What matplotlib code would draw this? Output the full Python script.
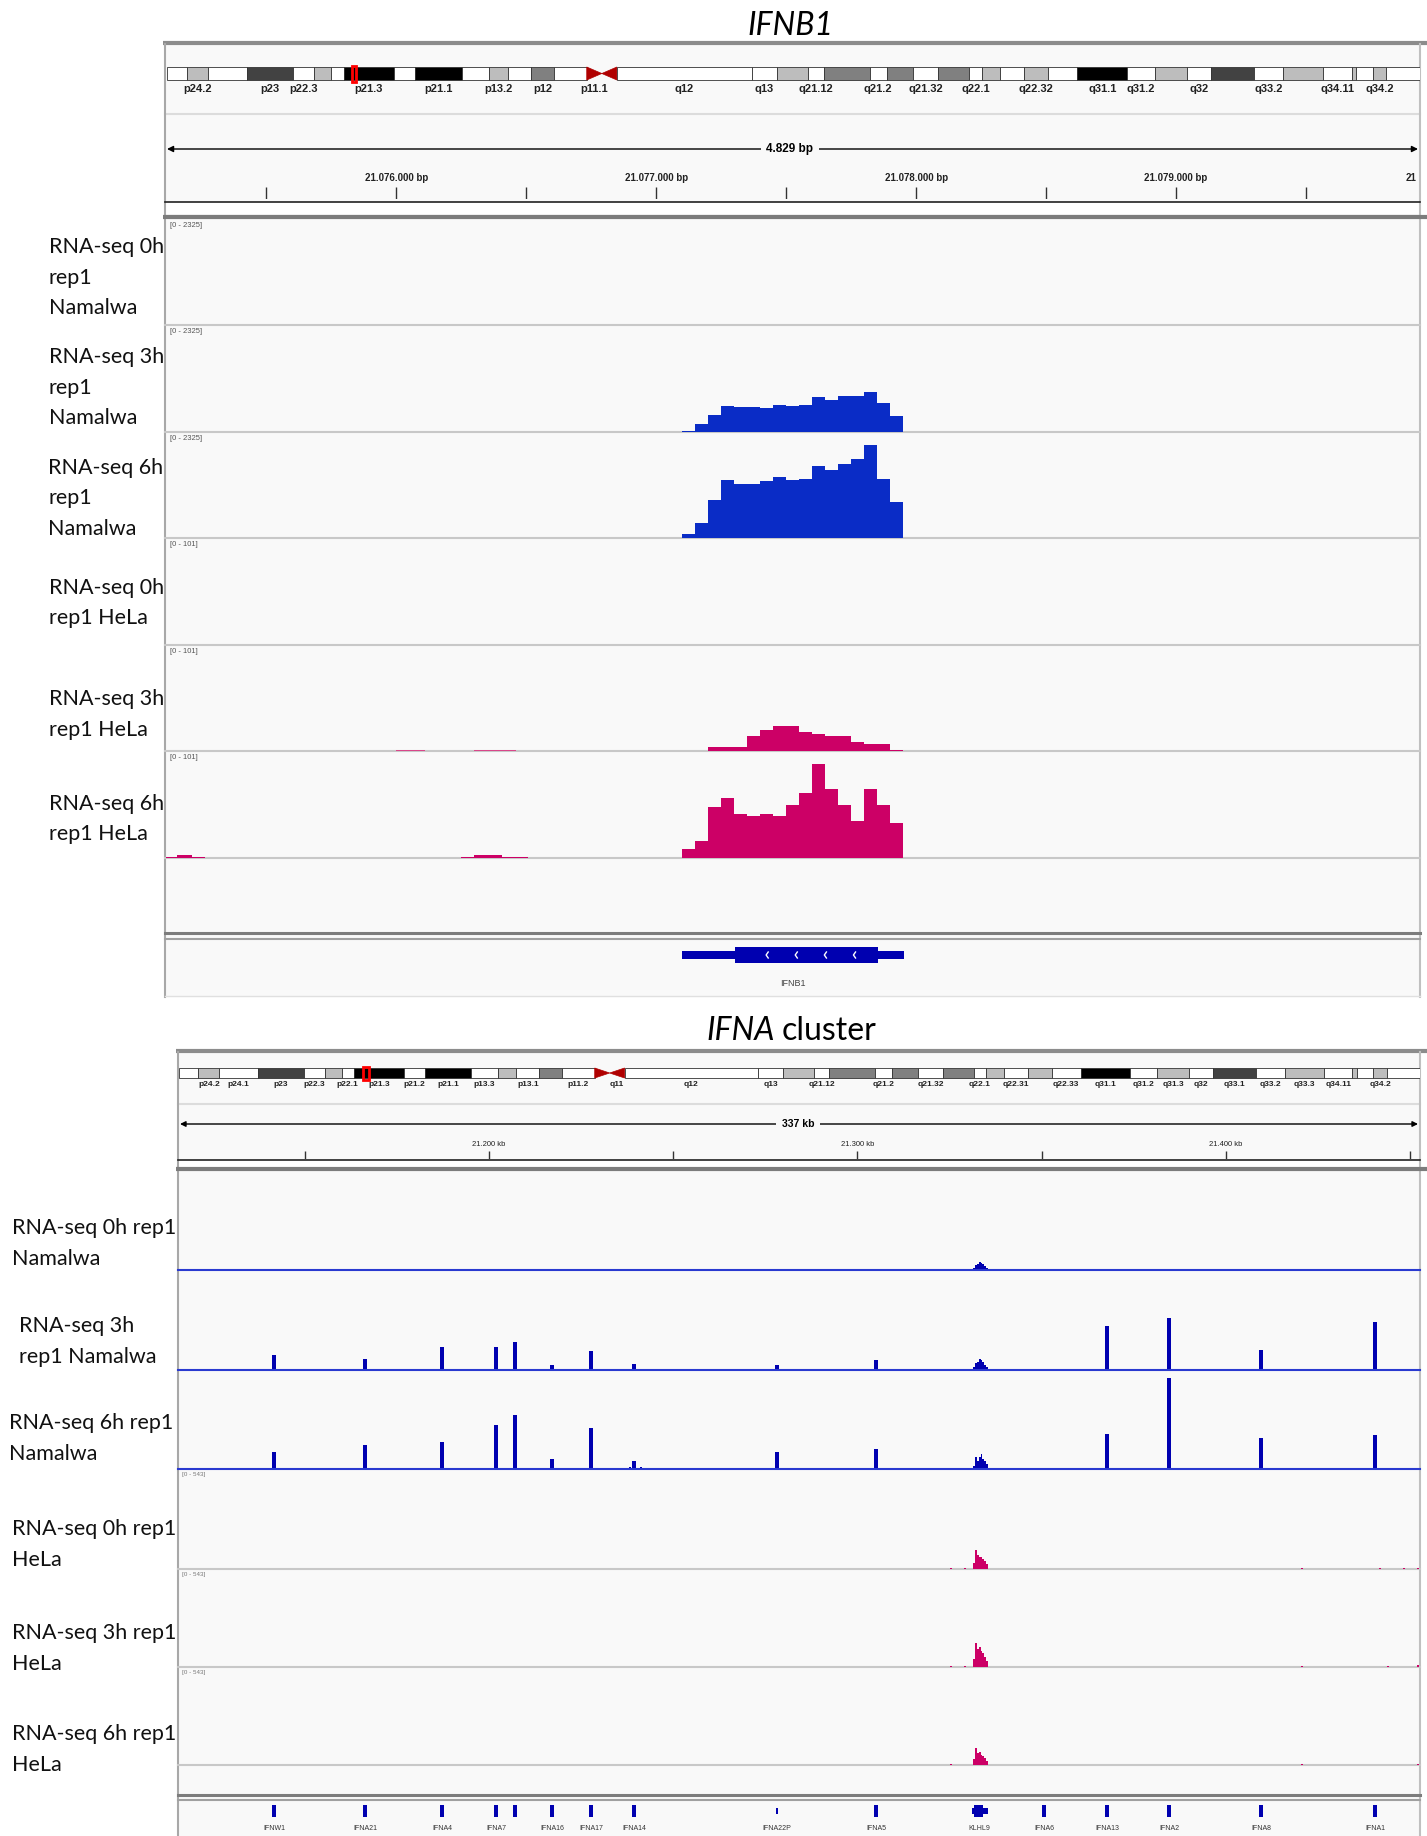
import numpy as np
import matplotlib.pyplot as plt
from matplotlib.patches import Rectangle, Polygon

plt.rcParams['font.family'] = ['Lato', 'DejaVu Sans']
NARROW = ['Liberation Sans', 'DejaVu Sans']

W, H = 1427, 1836

# ---- chr9 cytobands (Mb) ----
band_names = ['p24.3', 'p24.2', 'p24.1', 'p23', 'p22.3', 'p22.2', 'p22.1', 'p21.3', 'p21.2', 'p21.1',
              'p13.3', 'p13.2', 'p13.1', 'p12', 'p11.2', 'p11.1', 'q11', 'q12', 'q13', 'q21.11',
              'q21.12', 'q21.13', 'q21.2', 'q21.31', 'q21.32', 'q21.33', 'q22.1', 'q22.2', 'q22.31', 'q22.32',
              'q22.33', 'q31.1', 'q31.2', 'q31.3', 'q32', 'q33.1', 'q33.2', 'q33.3', 'q34.11', 'q34.12',
              'q34.13', 'q34.2', 'q34.3']
band_starts = [0.0, 2.2, 4.6, 9.0, 14.2, 16.6, 18.5, 19.9, 25.6, 28.0,
               33.2, 36.3, 38.4, 41.0, 43.6, 47.3, 49.0, 50.7, 65.9, 68.7,
               72.2, 74.0, 79.2, 81.1, 84.1, 86.9, 90.4, 91.8, 93.9, 96.6,
               99.3, 102.6, 108.2, 111.3, 114.9, 117.7, 122.5, 125.8, 130.3, 133.5,
               134.0, 135.9, 137.4]
band_stains = ['gneg', 'gpos25', 'gneg', 'gpos75', 'gneg', 'gpos25', 'gneg', 'gpos100', 'gneg', 'gpos100',
               'gneg', 'gpos25', 'gneg', 'gpos50', 'gneg', 'acen', 'acen', 'gvar', 'gneg', 'gpos25',
               'gneg', 'gpos50', 'gneg', 'gpos50', 'gneg', 'gpos50', 'gneg', 'gpos25', 'gneg', 'gpos25',
               'gneg', 'gpos100', 'gneg', 'gpos25', 'gneg', 'gpos75', 'gneg', 'gpos25', 'gneg', 'gpos25',
               'gneg', 'gpos25', 'gneg']
CHR9_LEN = 141.2
top_band_labels = ['p24.2', 'p23', 'p22.3', 'p21.3', 'p21.1', 'p13.2', 'p12', 'p11.1', 'q12', 'q13',
                   'q21.12', 'q21.2', 'q21.32', 'q22.1', 'q22.32', 'q31.1', 'q31.2', 'q32', 'q33.2',
                   'q34.11', 'q34.2']
bot_band_labels = ['p24.2', 'p24.1', 'p23', 'p22.3', 'p22.1', 'p21.3', 'p21.2', 'p21.1', 'p13.3', 'p13.1',
                   'p11.2', 'q11', 'q12', 'q13', 'q21.12', 'q21.2', 'q21.32', 'q22.1', 'q22.31', 'q22.33',
                   'q31.1', 'q31.2', 'q31.3', 'q32', 'q33.1', 'q33.2', 'q33.3', 'q34.11', 'q34.2']

# ---- IFNB1 locus (50 bp bins) ----
ifnb1_bins = [21077100, 21077150, 21077200, 21077250, 21077300, 21077350, 21077400, 21077450, 21077500,
              21077550, 21077600, 21077650, 21077700, 21077750, 21077800, 21077850, 21077900]
nam_3h = [22, 182, 363, 574, 545, 545, 523, 596, 574, 596, 756, 690, 785, 785, 872, 640, 342]
nam_6h = [95, 327, 829, 1272, 1178, 1178, 1250, 1345, 1272, 1301, 1578, 1490, 1621, 1738, 2036, 1301, 785]
hela_3h = [0, 0, 4.1, 4.1, 4.1, 14.2, 20.2, 23.4, 23.4, 18.3, 16.4, 14.2, 14.2, 8.8, 6.3, 6.3, 1.3]
hela_6h = [8.2, 16.4, 48.6, 56.5, 41.7, 39.5, 41.7, 39.5, 50.5, 61.5, 89.0, 65.6, 50.5, 35.3, 65.6, 50.5, 33.5]
hela_3h_low_start = [21076000, 21076300]
hela_3h_low_end = [21076110, 21076460]
hela_3h_low_val = [1, 1]
hela_6h_low_start = [21075115, 21075155, 21076250, 21076300]
hela_6h_low_end = [21075265, 21075215, 21076505, 21076405]
hela_6h_low_val = [1, 3, 1, 3]
ifnb1_utr5 = (21077854, 21077954)
ifnb1_cds = (21077303, 21077854)
ifnb1_utr3 = (21077099, 21077303)

# ---- IFNA cluster ----
gene_names = ['IFNW1', 'IFNA21', 'IFNA4', 'IFNA7', 'IFNA10', 'IFNA16', 'IFNA17', 'IFNA14', 'IFNA22P',
              'IFNA5', 'KLHL9', 'IFNA6', 'IFNA13', 'IFNA2', 'IFNA8', 'IFNA1']
gene_labels = ['IFNW1', 'IFNA21', 'IFNA4', 'IFNA7', '', 'IFNA16', 'IFNA17', 'IFNA14', 'IFNA22P',
               'IFNA5', 'KLHL9', 'IFNA6', 'IFNA13', 'IFNA2', 'IFNA8', 'IFNA1']
gene_start = [21141100, 21165800, 21186700, 21201350, 21206500, 21216550, 21227150, 21238800, 21277900,
              21304500, 21331000, 21350100, 21367200, 21384000, 21409000, 21439900]
gene_end = [21142200, 21166900, 21187800, 21202450, 21207600, 21217650, 21228250, 21239900, 21278500,
            21305600, 21335400, 21351200, 21368300, 21385100, 21410100, 21441000]
nam_3h_peaks = [82, 60, 126, 126, 154, 27, 104, 33, 27, 55, 0, 0, 241, 280, 110, 258]
nam_6h_peaks = [93, 132, 148, 241, 296, 55, 225, 44, 93, 110, 0, 0, 192, 499, 170, 186]

klhl9_bins = [21331400, 21331900, 21332400, 21332900, 21333400, 21333900, 21334400, 21334900]
klhl9_nam_0h = [11, 27, 33, 44, 38, 33, 22, 11]
klhl9_nam_3h = [16, 38, 44, 60, 55, 44, 27, 16]
klhl9_nam_6h = [16, 66, 44, 66, 82, 55, 44, 27]
klhl9_hela_0h = [33, 104, 77, 66, 66, 55, 44, 27]
klhl9_hela_3h = [44, 132, 99, 110, 88, 77, 55, 33]
klhl9_hela_6h = [33, 93, 66, 71, 55, 49, 38, 22]

nam_noise_pos = [21325900, 21327300, 21330300]
nam_noise_val = [5, 5, 8]
nam6_noise_pos = [21209800, 21211400, 21213000, 21213800, 21220600, 21232000, 21234200, 21236100,
                  21238300, 21241300, 21243200]
nam6_noise_val = [8, 6, 6, 6, 8, 6, 8, 6, 10, 12, 6]
hela_0h_speck_pos = [21325400, 21329200, 21420700, 21441800, 21448300, 21452100]
hela_0h_speck_val = [6, 5, 5, 6, 8, 8]
hela_3h_speck_pos = [21325400, 21329200, 21420700, 21444000, 21452100]
hela_3h_speck_val = [8, 5, 8, 6, 11]
hela_6h_speck_pos = [21325400, 21420700, 21452100]
hela_6h_speck_val = [5, 6, 8]

BLUE = '#0a2cc6'
DBLUE = '#0000b0'
MAG = '#cc0066'
PANEL = '#f9f9f9'
SEP = '#c8c8c8'
STAIN = {'gneg': 'white', 'gvar': 'white', 'gpos25': '#bdbdbd', 'gpos50': '#808080',
         'gpos75': '#424242', 'gpos100': 'black'}

fig = plt.figure(figsize=(W / 100, H / 100), dpi=100)
bg = fig.add_axes([0, 0, 1, 1])
bg.set_xlim(0, W)
bg.set_ylim(H, 0)
bg.axis('off')


def px_axes(x0, y0, x1, y1):
    ax = fig.add_axes([x0 / W, 1 - y1 / H, (x1 - x0) / W, (y1 - y0) / H])
    ax.set_facecolor('none')
    ax.axis('off')
    return ax


def draw_ideogram(x0, x1, yb0, yb1, ylab, labels, fs, loc_mb, loc_w):
    ax = px_axes(x0, yb0 - 4, x1, ylab + 8)
    ax.set_xlim(0, CHR9_LEN)
    ax.set_ylim(ylab + 8, yb0 - 4)
    ends = band_starts[1:] + [CHR9_LEN]
    mid = (yb0 + yb1) / 2
    for name, s, e, st in zip(band_names, band_starts, ends, band_stains):
        if st == 'acen':
            if name.startswith('p'):
                pts = [(s, yb0), (s, yb1), (e, mid)]
            else:
                pts = [(e, yb0), (e, yb1), (s, mid)]
            ax.add_patch(Polygon(pts, closed=True, fc='#b00000', ec='#b00000', lw=0.5))
        else:
            ax.add_patch(Rectangle((s, yb0), e - s, yb1 - yb0, fc=STAIN[st], ec='#333333', lw=0.6))
        if name in labels:
            ax.text((s + e) / 2, ylab, name, ha='center', va='center', fontsize=fs,
                    fontweight='bold', family=NARROW, color='#222222')
    ax.add_patch(Rectangle((loc_mb - loc_w / 2, yb0 - 1.5), loc_w, yb1 - yb0 + 3,
                           fc='none', ec='red', lw=2))


def draw_ruler(x0, x1, g0, g1, yt0, yt1, ylab, ticks, major, labels, fs, bold):
    ax = px_axes(x0, ylab - 10, x1, yt1)
    ax.set_xlim(g0, g1)
    ax.set_ylim(yt1, ylab - 10)
    ax.vlines(ticks, yt0, yt1, color='#333333', lw=1)
    for pos, lab in zip(major, labels):
        ax.text(pos, ylab, lab, ha='center', va='center', fontsize=fs, family=NARROW,
                fontweight='bold' if bold else 'normal', color='#222222')


def track(x0, x1, ytop, ybot, g0, g1, vmax):
    ax = px_axes(x0, ytop, x1, ybot)
    ax.set_xlim(g0, g1)
    ax.set_ylim(0, vmax)
    return ax


# ================= top panel: IFNB1 =================
TX0, TX1 = 165, 1420
TG0, TG1 = 21075110, 21079939
bg.add_patch(Rectangle((TX0, 44), TX1 - TX0, 997 - 44, fc=PANEL, ec='none'))
bg.text(790, 26, 'IFNB1', ha='center', va='center', fontsize=23, style='italic')
bg.plot([163, 1427], [43, 43], color='#8c8c8c', lw=3, solid_capstyle='butt')
bg.plot([TX0, TX1], [114, 114], color='#dcdcdc', lw=1.5)
bg.plot([TX0, TX0], [44, 997], color='#a8a8a8', lw=1.5)
bg.plot([TX1, TX1], [44, 997], color='#c0c0c0', lw=1.5)

draw_ideogram(167, 1420, 67, 80, 89, top_band_labels, 8, 21.077, 0.45)

bg.annotate('', xy=(167, 149), xytext=(1418, 149),
            arrowprops=dict(arrowstyle='<|-|>', color='black', lw=1, mutation_scale=9,
                            shrinkA=0, shrinkB=0))
bg.text(790, 149, '4.829 bp', ha='center', va='center', fontsize=8.5, fontweight='bold',
        family=NARROW, bbox=dict(fc=PANEL, ec='none', pad=4))

draw_ruler(TX0, TX1, TG0, TG1, 187, 199, 178,
           [21075500, 21076000, 21076500, 21077000, 21077500, 21078000, 21078500, 21079000, 21079500],
           [21076000, 21077000, 21078000, 21079000],
           ['21.076.000 bp', '21.077.000 bp', '21.078.000 bp', '21.079.000 bp'], 7, True)
# label of 21.080.000 bp is cut by the panel edge; only its start shows
bg.text(1406, 178, '21', ha='left', va='center', fontsize=7, fontweight='bold',
        family=NARROW, color='#222222')
bg.add_patch(Rectangle((TX0, 202), TX1 - TX0, 12, fc='white', ec='none'))
bg.plot([TX0, TX1], [202, 202], color='#222222', lw=1.2)
bg.plot([163, 1427], [217, 217], color='#7c7c7c', lw=3, solid_capstyle='butt')

top_bounds = [219, 325, 432, 538, 645, 751, 858]
top_ranges = [2325, 2325, 2325, 101, 101, 101]
for b in top_bounds[1:]:
    bg.plot([TX0, TX1], [b, b], color=SEP, lw=1.5)
for i, r in enumerate(top_ranges):
    bg.text(TX0 + 5, top_bounds[i] + 3, '[0 - %d]' % r, ha='left', va='top', fontsize=5.5,
            family=NARROW, color='#555555')

ax = track(TX0, TX1, top_bounds[1], top_bounds[2], TG0, TG1, 2325)
ax.bar(ifnb1_bins, nam_3h, width=50, align='edge', color=BLUE, lw=0)
ax = track(TX0, TX1, top_bounds[2], top_bounds[3], TG0, TG1, 2325)
ax.bar(ifnb1_bins, nam_6h, width=50, align='edge', color=BLUE, lw=0)
ax = track(TX0, TX1, top_bounds[4], top_bounds[5], TG0, TG1, 101)
ax.bar(ifnb1_bins, hela_3h, width=50, align='edge', color=MAG, lw=0)
ax.bar(hela_3h_low_start, hela_3h_low_val,
       width=np.array(hela_3h_low_end) - np.array(hela_3h_low_start), align='edge', color='#d9478a', lw=0)
ax = track(TX0, TX1, top_bounds[5], top_bounds[6], TG0, TG1, 101)
ax.bar(ifnb1_bins, hela_6h, width=50, align='edge', color=MAG, lw=0)
ax.bar(hela_6h_low_start, hela_6h_low_val,
       width=np.array(hela_6h_low_end) - np.array(hela_6h_low_start), align='edge', color=MAG, lw=0)

top_labels = [(49, 247, ['RNA-seq 0h', 'rep1', 'Namalwa']),
              (49, 357, ['RNA-seq 3h', 'rep1', 'Namalwa']),
              (48, 468, ['RNA-seq 6h', 'rep1', 'Namalwa']),
              (49, 588, ['RNA-seq 0h', 'rep1 HeLa']),
              (49, 699, ['RNA-seq 3h', 'rep1 HeLa']),
              (49, 804, ['RNA-seq 6h', 'rep1 HeLa'])]
for x, y, lines in top_labels:
    for k, line in enumerate(lines):
        bg.text(x, y + 30.5 * k, line, ha='left', va='center', fontsize=15.5, color='#111111')

bg.plot([TX0, TX1], [933, 933], color='#7c7c7c', lw=2.2)
bg.plot([TX0, TX1], [939, 939], color='#a0a0a0', lw=1.5)
bg.plot([TX0, TX1], [996, 996], color='#e0e0e0', lw=1)
gax = px_axes(TX0, 940, TX1, 997)
gax.set_xlim(TG0, TG1)
gax.set_ylim(997, 940)
for (s, e) in [ifnb1_utr3, ifnb1_utr5]:
    gax.add_patch(Rectangle((s, 951), e - s, 8, fc=DBLUE, ec='none'))
gax.add_patch(Rectangle((ifnb1_cds[0], 947), ifnb1_cds[1] - ifnb1_cds[0], 16, fc=DBLUE, ec='none'))
for cx in np.arange(ifnb1_cds[0] + 120, ifnb1_cds[1] - 60, 112):
    gax.plot([cx + 8, cx, cx + 8], [952, 955, 958], color='white', lw=1)
gax.text((ifnb1_utr3[0] + ifnb1_utr5[1]) / 2, 983, 'IFNB1', ha='center', va='center', fontsize=6.5,
         family=NARROW, color='#444444')

# ================= bottom panel: IFNA cluster =================
BX0, BX1 = 178, 1420
BG0, BG1 = 21115600, 21452680
bg.add_patch(Rectangle((BX0, 1052), BX1 - BX0, H - 1052, fc=PANEL, ec='none'))
bg.text(775, 1031, 'IFNA', ha='right', va='center', fontsize=23, style='italic')
bg.text(782, 1031, 'cluster', ha='left', va='center', fontsize=23)
bg.plot([176, 1427], [1051, 1051], color='#8c8c8c', lw=3, solid_capstyle='butt')
bg.plot([BX0, BX1], [1104, 1104], color='#dcdcdc', lw=1.5)
bg.plot([BX0, BX0], [1052, H], color='#a8a8a8', lw=1.5)
bg.plot([BX1, BX1], [1052, H], color='#c0c0c0', lw=1.5)

draw_ideogram(179, 1420, 1068, 1078, 1084, bot_band_labels, 6, 21.28, 0.6)

bg.annotate('', xy=(180, 1124), xytext=(1418, 1124),
            arrowprops=dict(arrowstyle='<|-|>', color='black', lw=1, mutation_scale=8,
                            shrinkA=0, shrinkB=0))
bg.text(798, 1124, '337 kb', ha='center', va='center', fontsize=7.5, fontweight='bold',
        family=NARROW, bbox=dict(fc=PANEL, ec='none', pad=4))

draw_ruler(BX0, BX1, BG0, BG1, 1151, 1159, 1145,
           [21150000, 21200000, 21250000, 21300000, 21350000, 21400000, 21450000],
           [21200000, 21300000, 21400000], ['21.200 kb', '21.300 kb', '21.400 kb'], 5.5, False)
bg.add_patch(Rectangle((BX0, 1160), BX1 - BX0, 7, fc='white', ec='none'))
bg.plot([BX0, BX1], [1160, 1160], color='#222222', lw=1.2)
bg.plot([176, 1427], [1169, 1169], color='#7c7c7c', lw=3, solid_capstyle='butt')

bot_bounds = [1171, 1270, 1370, 1469, 1569, 1667, 1765]
for b in bot_bounds[4:]:
    bg.plot([BX0, BX1], [b, b], color=SEP, lw=1.5)
for i in range(3, 6):
    bg.text(BX0 + 4, bot_bounds[i] + 3, '[0 - 543]', ha='left', va='top', fontsize=4.5,
            family=NARROW, color='#777777')

gene_mid = (np.array(gene_start) + np.array(gene_end)) / 2
klhl9_w = klhl9_bins[1] - klhl9_bins[0]

ax = track(BX0, BX1, bot_bounds[0], bot_bounds[1], BG0, BG1, 543)
ax.axhline(0, color='#2a3ad0', lw=1.5, clip_on=False)
ax.bar(klhl9_bins, klhl9_nam_0h, width=klhl9_w, align='edge', color=DBLUE, lw=0)

ax = track(BX0, BX1, bot_bounds[1], bot_bounds[2], BG0, BG1, 543)
ax.axhline(0, color='#2a3ad0', lw=1.5, clip_on=False)
ax.bar(gene_mid, nam_3h_peaks, width=1000, color=DBLUE, lw=0)
ax.bar(klhl9_bins, klhl9_nam_3h, width=klhl9_w, align='edge', color=DBLUE, lw=0)
ax.bar(nam_noise_pos, nam_noise_val, width=500, color=DBLUE, lw=0)

ax = track(BX0, BX1, bot_bounds[2], bot_bounds[3], BG0, BG1, 543)
ax.axhline(0, color='#2a3ad0', lw=1.5, clip_on=False)
ax.bar(gene_mid, nam_6h_peaks, width=1000, color=DBLUE, lw=0)
ax.bar(klhl9_bins, klhl9_nam_6h, width=klhl9_w, align='edge', color=DBLUE, lw=0)
ax.bar(nam_noise_pos, nam_noise_val, width=500, color=DBLUE, lw=0)
ax.bar(nam6_noise_pos, nam6_noise_val, width=500, color=DBLUE, lw=0)

for i, (prof, spos, sval) in enumerate([(klhl9_hela_0h, hela_0h_speck_pos, hela_0h_speck_val),
                                        (klhl9_hela_3h, hela_3h_speck_pos, hela_3h_speck_val),
                                        (klhl9_hela_6h, hela_6h_speck_pos, hela_6h_speck_val)]):
    ax = track(BX0, BX1, bot_bounds[3 + i], bot_bounds[4 + i], BG0, BG1, 543)
    ax.bar(klhl9_bins, prof, width=klhl9_w, align='edge', color=MAG, lw=0)
    ax.bar(spos, sval, width=600, color=MAG, lw=0)

bot_labels = [(12, 1228, ['RNA-seq 0h rep1', 'Namalwa']),
              (19, 1326, ['RNA-seq 3h', 'rep1 Namalwa']),
              (9, 1423, ['RNA-seq 6h rep1', 'Namalwa']),
              (12, 1529, ['RNA-seq 0h rep1', 'HeLa']),
              (12, 1633, ['RNA-seq 3h rep1', 'HeLa']),
              (12, 1734, ['RNA-seq 6h rep1', 'HeLa'])]
for x, y, lines in bot_labels:
    for k, line in enumerate(lines):
        bg.text(x, y + 31 * k, line, ha='left', va='center', fontsize=15.5, color='#111111')

bg.plot([BX0, BX1], [1795, 1795], color='#7c7c7c', lw=2.2)
bg.plot([BX0, BX1], [1800, 1800], color='#a0a0a0', lw=1.5)
gax = px_axes(BX0, 1801, BX1, H)
gax.set_xlim(BG0, BG1)
gax.set_ylim(H, 1801)
for name, lab, s, e in zip(gene_names, gene_labels, gene_start, gene_end):
    h = 6 if name == 'IFNA22P' else 12
    if name == 'KLHL9':
        gax.add_patch(Rectangle((s, 1808), e - s, 6, fc=DBLUE, ec='none'))
        gax.add_patch(Rectangle((s + 600, 1805), e - s - 1800, 12, fc=DBLUE, ec='none'))
    else:
        gax.add_patch(Rectangle((s, 1811 - h / 2), e - s, h, fc=DBLUE, ec='none'))
    if lab:
        gax.text((s + e) / 2, 1829, lab, ha='center', va='center', fontsize=5,
                 family=NARROW, color='#333333')

fig.savefig('out.png', dpi=100, facecolor='white')
